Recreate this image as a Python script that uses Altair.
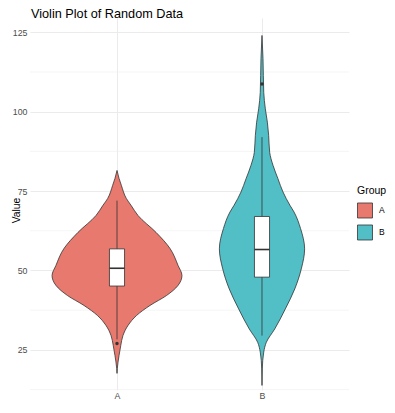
import altair as alt
import pandas as pd

groups = ["A", "B"]
positions = [1, 2]
colors = ["#E8796E", "#52BEC6"]

# violin outlines: value and half-width (fraction of category spacing)
a_value = [81.5, 79.0, 76.8, 72.7, 70.5, 67.3, 62.0, 56.9, 51.6, 48.4, 45.3, 42.1, 39.0, 35.8, 32.7, 29.5, 26.4, 23.2, 19.1, 17.6]
a_halfwidth = [0, .014, .030, .064, .097, .145, .269, .366, .421, .448, .421, .341, .228, .134, .076, .041, .026, .014, .002, 0]
b_value = [124.0, 116.7, 106.1, 100.9, 96.7, 92.5, 87.2, 83.1, 78.9, 74.7, 70.5, 68.4, 63.2, 56.8, 50.5, 44.2, 37.9, 31.6, 27.4, 24.3, 19.0, 13.8]
b_halfwidth = [0, .007, .012, .023, .037, .046, .053, .076, .110, .145, .193, .221, .266, .294, .271, .226, .161, .088, .030, .012, .002, 0]

# box plot stats
q1 = [45.1, 47.9]
median = [50.7, 56.6]
q3 = [56.8, 67.0]
whisker_lo = [28.3, 29.5]
whisker_hi = [72.0, 92.0]
outlier_group = ["A", "B"]
outlier_value = [27.0, 108.7]

major_ticks = [25, 50, 75, 100, 125]
minor_ticks = [12.5, 37.5, 62.5, 87.5, 112.5]

box_half = 0.052

violin_df = pd.DataFrame({
    "group": ["A"] * len(a_value) + ["B"] * len(b_value),
    "pos": [1] * len(a_value) + [2] * len(b_value),
    "value": a_value + b_value,
    "hw": a_halfwidth + b_halfwidth,
})
violin_df["lo"] = violin_df["pos"] - violin_df["hw"]
violin_df["hi"] = violin_df["pos"] + violin_df["hw"]
box_df = pd.DataFrame({"group": groups, "pos": positions, "q1": q1, "med": median,
                       "q3": q3, "lo": whisker_lo, "hi": whisker_hi})
box_df["bl"] = box_df["pos"] - box_half
box_df["br"] = box_df["pos"] + box_half
out_df = pd.DataFrame({"group": outlier_group,
                       "pos": [positions[groups.index(g)] for g in outlier_group],
                       "value": outlier_value})
minor_df = pd.DataFrame({"v": minor_ticks})

FONT = "Liberation Sans"
ydom = [12.4, 129.5]
xdom = [0.4, 2.6]
plot_h = round((ydom[1] - ydom[0]) * 3.176, 1)

xscale = alt.Scale(domain=xdom, nice=False, zero=False)
yscale = alt.Scale(domain=ydom, nice=False, zero=False)

xaxis = alt.Axis(values=[1, 2], labelExpr="datum.value == 1 ? 'A' : 'B'", title=None,
                 grid=True, gridColor="#EBEBEB", gridWidth=1, domain=False, ticks=False,
                 labelFont=FONT, labelFontSize=8.8, labelColor="#4D4D4D", labelPadding=2)
yaxis = alt.Axis(values=major_ticks, title="Value", grid=True, gridColor="#EBEBEB", gridWidth=1,
                 domain=False, ticks=False, labelFont=FONT, labelFontSize=8.8,
                 labelColor="#4D4D4D", labelPadding=3, titleFont=FONT, titleFontSize=10.4,
                 titleFontWeight="normal", titleColor="black", titleX=-9, titleY=192)

minor = alt.Chart(minor_df).mark_rule(color="#EEEEEE", strokeWidth=0.6).encode(
    y=alt.Y("v:Q", scale=yscale, axis=yaxis)
)

violin = alt.Chart(violin_df).mark_area(
    orient="horizontal", interpolate="monotone", stroke="#333333",
    strokeWidth=0.8, opacity=1, fillOpacity=1).encode(
    y=alt.Y("value:Q", scale=yscale, axis=yaxis),
    x=alt.X("lo:Q", scale=xscale, axis=xaxis, stack=None),
    x2="hi:Q",
    detail="group:N",
    color=alt.Color("group:N", scale=alt.Scale(domain=groups, range=colors),
                    legend=alt.Legend(title="Group", orient="none", legendX=327, legendY=168,
                                      symbolType="square", symbolSize=225,
                                      symbolStrokeColor="#333333", symbolStrokeWidth=0.8,
                                      rowPadding=2, labelOffset=6, titlePadding=6,
                                      titleFont=FONT, titleFontSize=10.5,
                                      titleFontWeight="normal", titleColor="black",
                                      labelFont=FONT, labelFontSize=8.5, labelColor="black")),
)

whisker = alt.Chart(box_df).mark_rule(color="#333333", strokeWidth=0.8).encode(
    x=alt.X("pos:Q", scale=xscale), y=alt.Y("lo:Q", scale=yscale), y2="hi:Q"
)

box = alt.Chart(box_df).mark_bar(fill="white", stroke="#333333", strokeWidth=0.8).encode(
    x=alt.X("bl:Q", scale=xscale), x2="br:Q",
    y=alt.Y("q1:Q", scale=yscale), y2="q3:Q"
)

med = alt.Chart(box_df).mark_rule(color="#333333", strokeWidth=1.6).encode(
    x=alt.X("bl:Q", scale=xscale), x2="br:Q", y=alt.Y("med:Q", scale=yscale)
)

outl = alt.Chart(out_df).mark_circle(color="#333333", size=12, opacity=1).encode(
    x=alt.X("pos:Q", scale=xscale), y=alt.Y("value:Q", scale=yscale)
)

chart = alt.layer(minor, violin, whisker, box, med, outl).properties(
    width=319, height=plot_h,
    title=alt.TitleParams("Violin Plot of Random Data", anchor="start", font=FONT,
                          fontSize=12.7, fontWeight="normal", color="black",
                          baseline="alphabetic", offset=0, dy=13, dx=1, frame="group"),
    autosize=alt.AutoSizeParams(type="none"),
    padding={"left": 22, "top": 10, "right": 38, "bottom": 11},
).configure_view(stroke=None)

chart.save("out.html", embed_options={"renderer": "svg", "actions": False})
